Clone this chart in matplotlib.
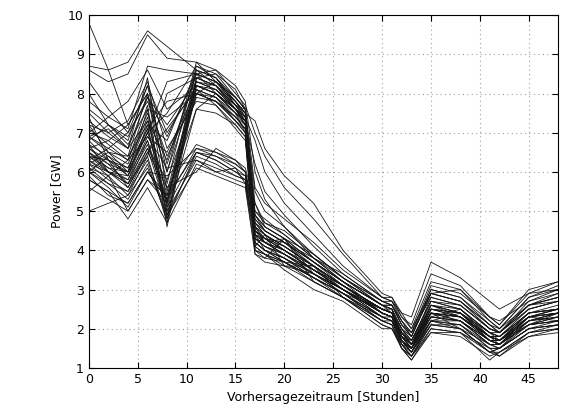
import matplotlib.pyplot as plt

hours = [0, 2, 4, 6, 8, 11, 13, 15, 16, 17, 18, 20, 23, 26, 30, 31, 32, 33, 35, 38, 41, 42, 45, 48]

m01 = [9.8, 8.6, 7.2, 8.0, 5.2, 8.4, 8.2, 7.6, 7.2, 4.4, 4.2, 3.9, 3.4, 3.0, 2.5, 2.4, 1.9, 1.6, 2.6, 2.4, 1.8, 1.7, 2.3, 2.4]
m02 = [8.7, 8.6, 8.8, 9.6, 9.2, 8.6, 8.4, 7.8, 7.5, 7.3, 6.6, 5.9, 5.2, 4.0, 2.9, 2.8, 2.4, 2.3, 3.7, 3.3, 2.7, 2.5, 2.9, 3.2]
m03 = [8.6, 8.3, 8.5, 9.5, 8.9, 8.8, 8.3, 7.7, 7.6, 5.6, 5.2, 4.8, 4.2, 3.5, 2.8, 2.7, 2.2, 1.9, 3.1, 2.9, 2.3, 2.1, 2.9, 3.0]
m04 = [7.2, 6.5, 6.0, 7.6, 4.6, 8.2, 8.0, 7.5, 7.0, 4.2, 4.0, 3.8, 3.3, 2.9, 2.3, 2.2, 1.6, 1.3, 2.2, 2.0, 1.4, 1.5, 2.0, 2.2]
m05 = [6.5, 6.0, 5.9, 6.8, 5.0, 8.0, 7.8, 7.3, 7.0, 4.0, 3.8, 4.3, 3.2, 2.8, 2.2, 2.1, 1.5, 1.2, 2.0, 1.9, 1.2, 1.4, 1.9, 2.0]
m06 = [6.2, 5.8, 5.5, 6.3, 4.9, 6.4, 6.2, 5.9, 5.8, 4.5, 4.3, 4.0, 3.5, 3.0, 2.4, 2.3, 1.8, 1.5, 2.4, 2.3, 1.7, 1.7, 2.2, 2.3]
m07 = [6.0, 5.6, 5.1, 6.0, 5.3, 6.6, 6.4, 6.1, 5.9, 4.8, 4.5, 4.2, 3.7, 3.2, 2.6, 2.5, 2.0, 1.7, 2.7, 2.5, 1.9, 1.8, 2.5, 2.7]
m08 = [5.8, 5.5, 4.8, 5.6, 4.7, 6.2, 6.0, 5.8, 5.7, 4.2, 4.0, 3.7, 3.3, 2.9, 2.3, 2.2, 1.7, 1.4, 2.1, 2.1, 1.6, 1.5, 2.0, 2.1]
m09 = [7.0, 6.8, 6.4, 8.0, 6.2, 8.5, 8.3, 7.8, 7.4, 4.6, 4.4, 4.1, 3.6, 3.1, 2.5, 2.4, 1.9, 1.6, 2.8, 2.6, 2.0, 1.9, 2.6, 2.8]
m10 = [6.8, 6.3, 5.9, 7.2, 6.8, 8.6, 8.2, 7.6, 7.2, 4.3, 4.1, 3.9, 3.4, 3.0, 2.4, 2.3, 1.7, 1.5, 2.3, 2.2, 1.6, 1.6, 2.2, 2.3]
m11 = [6.4, 6.1, 6.0, 7.0, 7.5, 8.7, 8.5, 7.9, 7.6, 4.9, 4.6, 4.3, 3.7, 3.2, 2.6, 2.6, 2.1, 1.8, 2.9, 2.7, 2.1, 1.9, 2.7, 2.9]
m12 = [7.5, 7.0, 6.6, 8.4, 5.5, 8.3, 8.1, 7.6, 7.3, 4.1, 3.9, 3.7, 3.2, 2.8, 2.1, 2.0, 1.5, 1.3, 1.9, 1.9, 1.4, 1.3, 1.9, 2.0]
m13 = [6.6, 6.2, 5.7, 6.6, 5.8, 7.9, 7.8, 7.4, 7.1, 4.4, 4.2, 4.0, 3.5, 3.0, 2.4, 2.3, 1.8, 1.5, 2.5, 2.3, 1.7, 1.6, 2.3, 2.4]
m14 = [6.3, 5.9, 5.4, 6.4, 8.0, 8.4, 8.2, 7.7, 7.4, 4.7, 4.5, 4.2, 3.6, 3.1, 2.5, 2.4, 1.9, 1.6, 2.6, 2.5, 1.9, 1.8, 2.4, 2.6]
m15 = [7.8, 7.4, 7.1, 8.7, 8.6, 8.5, 8.0, 7.6, 7.4, 6.8, 6.0, 5.2, 4.4, 3.6, 2.8, 2.7, 2.3, 2.0, 3.2, 3.0, 2.2, 2.0, 2.8, 3.1]
m16 = [6.9, 6.5, 6.2, 7.4, 5.1, 8.1, 7.9, 7.4, 7.1, 4.0, 3.9, 3.6, 3.2, 2.8, 2.3, 2.2, 1.6, 1.4, 2.2, 2.1, 1.5, 1.5, 2.1, 2.2]
m17 = [6.1, 5.7, 5.3, 6.2, 4.8, 6.5, 6.3, 6.0, 5.9, 4.6, 4.3, 4.1, 3.6, 3.1, 2.5, 2.4, 1.8, 1.6, 2.5, 2.4, 1.8, 1.7, 2.3, 2.5]
m18 = [5.0, 5.2, 5.4, 6.1, 4.9, 6.1, 5.9, 5.7, 5.6, 3.9, 3.7, 3.6, 3.6, 2.8, 2.1, 2.0, 1.5, 1.2, 1.9, 1.8, 1.3, 1.4, 1.8, 1.9]
m19 = [7.3, 6.9, 6.6, 7.9, 7.2, 8.3, 8.1, 7.7, 7.5, 5.0, 4.7, 4.4, 3.8, 3.3, 2.7, 2.6, 2.1, 1.8, 3.0, 2.8, 2.1, 2.0, 2.6, 2.8]
m20 = [6.7, 6.4, 6.1, 7.3, 5.4, 8.2, 8.0, 7.5, 7.2, 4.2, 4.0, 3.8, 3.3, 2.9, 2.3, 2.2, 1.7, 1.4, 2.3, 2.2, 1.6, 1.6, 2.1, 2.2]
m21 = [6.5, 6.1, 5.8, 6.9, 6.5, 8.1, 7.9, 7.5, 7.3, 4.5, 4.3, 4.0, 3.5, 3.0, 2.4, 2.3, 1.8, 1.5, 2.4, 2.3, 1.8, 1.7, 2.4, 2.5]
m22 = [6.0, 5.7, 5.5, 6.5, 5.6, 6.7, 6.5, 6.2, 6.0, 4.7, 4.4, 4.1, 3.6, 3.1, 2.5, 2.4, 1.9, 1.7, 2.6, 2.4, 1.8, 1.8, 2.4, 2.5]
m23 = [8.3, 7.6, 7.0, 8.2, 6.0, 8.3, 8.2, 7.8, 7.5, 4.8, 4.5, 4.2, 3.7, 3.2, 2.6, 2.5, 2.0, 1.7, 2.7, 2.6, 2.0, 1.9, 2.5, 2.7]
m24 = [6.6, 6.3, 6.0, 7.1, 7.8, 8.0, 7.8, 7.4, 7.2, 4.3, 4.1, 3.8, 3.4, 3.0, 2.4, 2.3, 1.7, 1.4, 2.2, 2.2, 1.6, 1.6, 2.1, 2.3]
m25 = [6.2, 6.0, 5.8, 6.7, 5.2, 8.6, 8.4, 7.9, 7.6, 4.6, 4.4, 4.1, 3.6, 3.1, 2.5, 2.4, 1.8, 1.6, 2.5, 2.3, 1.8, 1.7, 2.2, 2.4]
m26 = [7.1, 6.7, 6.3, 7.7, 4.8, 8.4, 8.2, 7.7, 7.4, 4.1, 3.9, 3.7, 3.3, 2.9, 2.2, 2.1, 1.6, 1.3, 2.1, 2.0, 1.4, 1.5, 2.0, 2.1]
m27 = [6.4, 6.0, 5.6, 6.6, 5.0, 6.3, 6.1, 5.9, 5.8, 4.3, 4.1, 3.9, 3.4, 3.0, 2.4, 2.3, 1.7, 1.5, 2.3, 2.2, 1.7, 1.6, 2.1, 2.2]
m28 = [6.9, 6.6, 6.3, 7.5, 6.0, 8.8, 8.6, 8.0, 7.7, 7.0, 6.4, 5.6, 4.8, 3.9, 2.8, 2.8, 2.3, 2.1, 3.4, 3.1, 2.3, 2.1, 3.0, 3.2]
m29 = [6.3, 6.0, 5.7, 6.8, 5.3, 8.0, 7.8, 7.3, 7.0, 4.2, 4.0, 3.8, 3.4, 3.0, 2.4, 2.3, 1.7, 1.5, 2.4, 2.2, 1.7, 1.6, 2.1, 2.3]
m30 = [6.5, 6.2, 6.0, 7.0, 8.3, 8.5, 8.3, 7.8, 7.5, 4.5, 4.3, 4.0, 3.5, 3.1, 2.5, 2.4, 1.9, 1.6, 2.6, 2.4, 1.9, 1.8, 2.4, 2.5]
m31 = [5.8, 5.5, 5.2, 6.0, 5.4, 6.5, 6.3, 6.0, 5.8, 4.4, 4.2, 3.9, 3.5, 3.0, 2.3, 2.2, 1.7, 1.4, 2.2, 2.1, 1.5, 1.5, 2.0, 2.1]
m32 = [7.6, 7.2, 6.8, 8.2, 7.0, 8.2, 8.0, 7.6, 7.3, 4.9, 4.6, 4.3, 3.7, 3.2, 2.6, 2.5, 2.0, 1.8, 2.9, 2.7, 2.0, 1.9, 2.6, 2.8]
m33 = [7.0, 7.4, 7.8, 8.6, 7.6, 8.2, 8.0, 7.5, 7.3, 5.5, 5.0, 4.6, 3.9, 3.3, 2.6, 2.6, 2.2, 1.9, 2.8, 2.6, 2.0, 1.9, 2.5, 2.7]
m34 = [6.3, 6.6, 7.0, 7.8, 6.4, 8.0, 8.3, 7.9, 7.6, 4.4, 4.0, 3.7, 3.6, 3.1, 2.4, 2.3, 1.9, 1.6, 2.3, 2.5, 1.8, 1.7, 2.3, 2.4]
m35 = [6.0, 6.4, 5.9, 7.0, 5.6, 6.0, 6.6, 6.3, 6.1, 5.2, 4.6, 4.3, 3.4, 2.9, 2.2, 2.2, 1.7, 1.4, 2.4, 2.0, 1.6, 1.5, 2.2, 2.4]
m36 = [5.5, 5.9, 6.3, 6.9, 6.1, 6.3, 6.0, 6.1, 5.7, 4.0, 3.9, 3.5, 3.0, 2.7, 2.0, 2.0, 1.6, 1.3, 2.0, 1.9, 1.5, 1.3, 1.8, 2.0]
m37 = [7.4, 6.3, 5.6, 6.5, 7.1, 8.1, 7.7, 7.1, 6.8, 4.1, 4.4, 3.6, 3.4, 2.9, 2.5, 2.5, 1.6, 1.5, 2.6, 2.3, 1.8, 1.6, 2.3, 2.5]
m38 = [6.8, 7.2, 6.9, 7.9, 6.9, 8.5, 8.6, 8.2, 7.8, 6.0, 5.3, 4.6, 3.8, 3.4, 2.7, 2.7, 2.4, 2.0, 2.9, 3.0, 2.3, 2.2, 2.7, 3.0]
m39 = [6.2, 6.5, 6.4, 7.2, 4.9, 7.6, 8.0, 7.6, 7.4, 4.6, 4.2, 4.3, 3.9, 3.3, 2.6, 2.5, 1.8, 1.7, 2.7, 2.5, 1.9, 1.9, 2.6, 2.7]
m40 = [5.9, 5.4, 5.2, 6.0, 5.9, 6.6, 6.5, 6.3, 6.0, 5.0, 4.8, 4.4, 3.8, 3.2, 2.6, 2.4, 2.0, 1.6, 2.4, 2.3, 1.8, 1.8, 2.3, 2.5]
m41 = [6.7, 6.0, 5.7, 6.4, 4.7, 8.4, 8.5, 8.1, 7.6, 4.4, 4.3, 4.2, 3.8, 3.2, 2.4, 2.3, 1.8, 1.5, 2.2, 2.4, 1.7, 1.6, 2.3, 2.2]
m42 = [8.0, 7.2, 6.7, 7.6, 7.4, 8.0, 7.9, 7.3, 7.1, 4.7, 4.4, 4.0, 3.6, 3.0, 2.3, 2.3, 1.8, 1.5, 2.5, 2.4, 1.7, 1.7, 2.1, 2.4]
m43 = [6.1, 5.9, 5.0, 5.8, 5.4, 7.6, 7.5, 7.2, 6.9, 3.9, 3.8, 3.7, 3.3, 2.8, 2.2, 2.1, 1.5, 1.3, 2.1, 2.0, 1.4, 1.4, 1.9, 2.1]
m44 = [6.6, 6.8, 7.2, 8.0, 5.7, 8.7, 8.4, 7.7, 7.3, 6.2, 5.5, 4.9, 4.1, 3.4, 2.7, 2.6, 2.1, 1.9, 3.0, 2.8, 2.2, 2.0, 2.8, 3.0]
m45 = [7.2, 7.0, 7.3, 8.3, 6.6, 7.8, 7.7, 7.2, 6.9, 4.3, 4.2, 3.9, 3.5, 3.0, 2.5, 2.4, 1.9, 1.6, 2.4, 2.3, 1.8, 1.7, 2.3, 2.4]
m46 = [6.4, 6.3, 6.1, 7.1, 5.1, 6.5, 6.4, 6.2, 6.0, 4.9, 4.5, 4.2, 3.7, 3.1, 2.5, 2.4, 1.9, 1.6, 2.5, 2.4, 1.9, 1.7, 2.4, 2.5]
m47 = [5.6, 5.3, 5.0, 5.8, 5.2, 8.2, 8.1, 7.6, 7.3, 4.5, 4.2, 4.0, 3.5, 3.1, 2.4, 2.3, 1.8, 1.5, 2.4, 2.2, 1.7, 1.6, 2.2, 2.4]
m48 = [6.9, 7.1, 6.6, 7.3, 6.3, 8.5, 8.3, 7.9, 7.6, 5.2, 4.7, 4.5, 3.9, 3.3, 2.7, 2.6, 2.2, 1.8, 2.9, 2.7, 2.1, 1.9, 2.6, 2.9]

members = [m01, m02, m03, m04, m05, m06, m07, m08, m09, m10, m11, m12, m13, m14, m15, m16,
           m17, m18, m19, m20, m21, m22, m23, m24, m25, m26, m27, m28, m29, m30, m31, m32,
           m33, m34, m35, m36, m37, m38, m39, m40, m41, m42, m43, m44, m45, m46, m47, m48]

plt.rcParams['font.family'] = ['DejaVu Sans']
plt.rcParams['font.size'] = 9

fig = plt.figure(figsize=(5.66, 4.2), dpi=100)
ax = fig.add_axes([0.157, 0.124, 0.829, 0.84])

for m in members:
    ax.plot(hours, m, color='#151515', linewidth=0.6)

ax.set_xlim(0, 48)
ax.set_ylim(1, 10)
ax.set_xticks(range(0, 46, 5))
ax.set_yticks(range(1, 11))
ax.grid(True, linestyle=(0, (1, 3)), color='#a0a0a0', linewidth=0.8)
ax.tick_params(direction='in', length=4, top=True, right=True)
ax.set_xlabel('Vorhersagezeitraum [Stunden]')
ax.set_ylabel('Power [GW]')

fig.savefig('out.png', dpi=100)
